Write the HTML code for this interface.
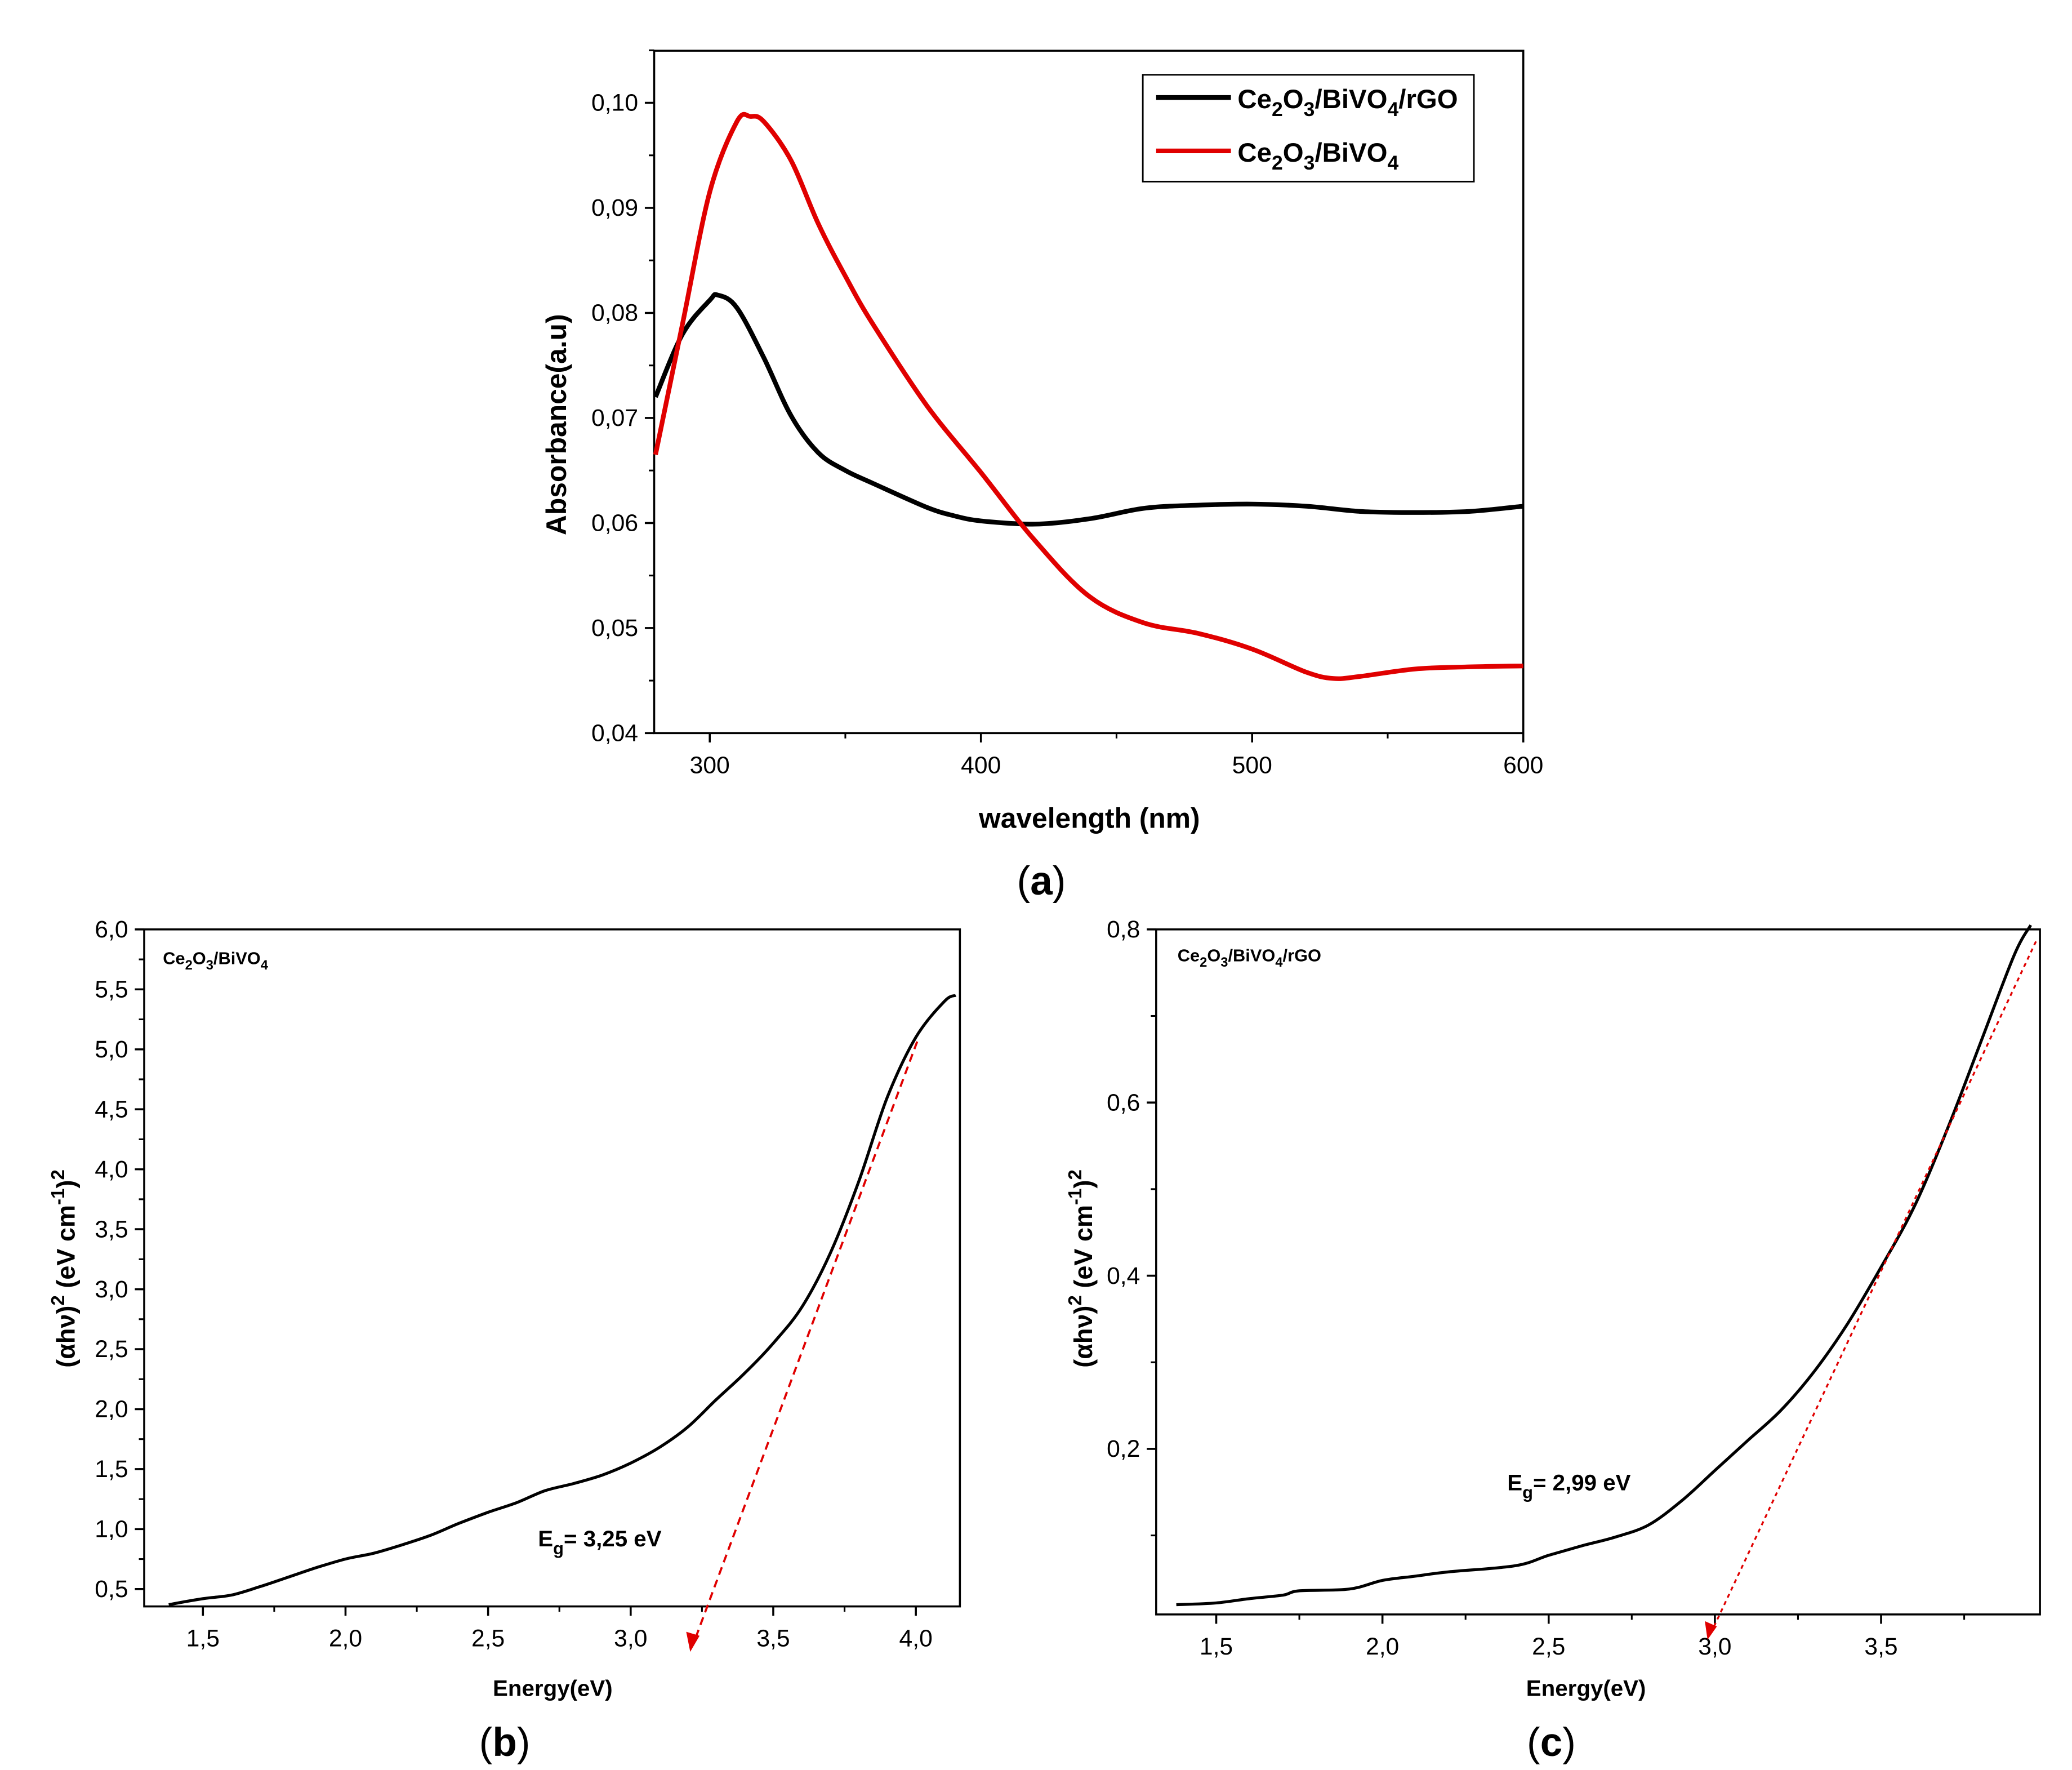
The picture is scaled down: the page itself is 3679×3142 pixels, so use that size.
<!DOCTYPE html>
<html><head><meta charset="utf-8"><style>
html,body{margin:0;padding:0;background:#fff}
svg{display:block}
text{font-family:"Liberation Sans",sans-serif;fill:#000}
</style></head><body>
<svg id="s" width="3679" height="3142" viewBox="0 0 1552 1325.5" preserveAspectRatio="none" xmlns="http://www.w3.org/2000/svg"></svg>
<script>
// Panel a data
const aWave=[280,290,300,303,310,320,330,340,350,360,380,390,400,420,440,460,480,500,520,540,560,580,600];
const aBlack=[0.072,0.078,0.0812,0.0817,0.0805,0.0757,0.0702,0.0667,0.065,0.0638,0.0615,0.0607,0.0602,0.0599,0.0604,0.0614,0.0617,0.0618,0.0616,0.0611,0.061,0.0611,0.0616];
const aRedWave=[280,290,300,310,315,320,330,340,350,360,380,400,420,440,460,480,500,520,530,540,560,580,600];
const aRed=[0.0665,0.079,0.0915,0.0982,0.0987,0.0982,0.0945,0.0885,0.0835,0.079,0.0712,0.0648,0.0583,0.053,0.0505,0.0495,0.048,0.0458,0.0452,0.0454,0.0461,0.0463,0.0464];
const aXTicks=[300,400,500,600];
const aYTicks=[0.04,0.05,0.06,0.07,0.08,0.09,0.10];
// Panel b data
const bE=[1.38,1.5,1.6,1.7,1.8,1.9,2.0,2.1,2.2,2.3,2.4,2.5,2.6,2.7,2.8,2.9,3.0,3.1,3.2,3.3,3.4,3.5,3.6,3.7,3.8,3.9,4.0,4.1,4.14];
const bV=[0.37,0.42,0.45,0.52,0.6,0.68,0.75,0.8,0.87,0.95,1.05,1.14,1.22,1.32,1.38,1.45,1.55,1.68,1.85,2.08,2.3,2.55,2.85,3.3,3.9,4.6,5.1,5.4,5.45];
const bXTicks=[1.5,2.0,2.5,3.0,3.5,4.0];
const bYTicks=[0.5,1.0,1.5,2.0,2.5,3.0,3.5,4.0,4.5,5.0,5.5,6.0];
// Panel c data
const cE=[1.38,1.5,1.6,1.7,1.75,1.9,2.0,2.1,2.2,2.4,2.5,2.6,2.7,2.8,2.9,3.0,3.1,3.2,3.3,3.4,3.5,3.6,3.7,3.8,3.9,3.95];
const cV=[0.02,0.022,0.027,0.031,0.036,0.038,0.048,0.053,0.058,0.065,0.077,0.088,0.098,0.112,0.14,0.175,0.21,0.245,0.29,0.345,0.41,0.48,0.57,0.67,0.77,0.805];
const cXTicks=[1.5,2.0,2.5,3.0,3.5];
const cYTicks=[0.2,0.4,0.6,0.8];

const S=document.getElementById('s');
const NS='http://www.w3.org/2000/svg';
function el(tag,attrs,txt){const e=document.createElementNS(NS,tag);for(const k in attrs)e.setAttribute(k,attrs[k]);if(txt!==undefined)e.innerHTML=txt;S.appendChild(e);return e;}
function fmt(v,d){return v.toFixed(d).replace('.',',');}
function lin(d0,d1,p0,p1){return v=>p0+(v-d0)*(p1-p0)/(d1-d0);}

function panel(o){
  const fr=el('rect',{x:o.x0,y:o.y0,width:o.x1-o.x0,height:o.y1-o.y0,fill:'none',stroke:'#000','stroke-width':1.5});
  
  
  const xs=o.xt[1]-o.xt[0], ys=o.yt[1]-o.yt[0];
  for(let v=o.xt[0]-xs/2;o.sx(v)<=o.x1+0.5;v+=xs/2){const px=o.sx(v); if(px<o.x0-0.5)continue;
    el('line',{x1:px,x2:px,y1:o.y1,y2:o.y1+4,stroke:'#000','stroke-width':1.3});}
  for(let v=o.yt[0]-ys/2;o.sy(v)>=o.y0-0.5;v+=ys/2){const py=o.sy(v); if(py>o.y1+0.5)continue;
    el('line',{x1:o.x0,x2:o.x0-4,y1:py,y2:py,stroke:'#000','stroke-width':1.3});}
  o.xt.forEach(v=>{const px=o.sx(v);
    el('line',{x1:px,x2:px,y1:o.y1,y2:o.y1+7,stroke:'#000','stroke-width':1.5});
    const t=el('text',{x:px,y:o.y1+30,'font-size':18,'text-anchor':'middle'},fmt(v,o.xd));
    
    
  });
  o.yt.forEach(v=>{const py=o.sy(v);
    el('line',{x1:o.x0,x2:o.x0-7,y1:py,y2:py,stroke:'#000','stroke-width':1.5});
    const t=el('text',{x:o.x0-12,y:py+6,'font-size':18,'text-anchor':'end'},fmt(v,o.yd));
    
    
  });
}
function path(xs,ys,sx,sy,stroke,w,name){
  const P=xs.map((x,i)=>[sx(x),sy(ys[i])]);
  let d='M'+P[0][0].toFixed(1)+','+P[0][1].toFixed(1);
  for(let i=0;i<P.length-1;i++){
    const p0=P[Math.max(0,i-1)],p1=P[i],p2=P[i+1],p3=P[Math.min(P.length-1,i+2)];
    const c1=[p1[0]+(p2[0]-p0[0])/6,p1[1]+(p2[1]-p0[1])/6];
    const c2=[p2[0]-(p3[0]-p1[0])/6,p2[1]-(p3[1]-p1[1])/6];
    d+=' C'+c1.map(v=>v.toFixed(1)).join(',')+' '+c2.map(v=>v.toFixed(1)).join(',')+' '+p2.map(v=>v.toFixed(1)).join(',');
  }
  const p=el('path',{d:d,fill:'none',stroke:stroke,'stroke-width':w,'stroke-linejoin':'round'});
  
  
}

// Panel a
const ax=lin(280,600,491,1141), ay=lin(0.04,0.10,549,77);
panel({name:'panel-a',x0:490,x1:1141,y0:38,y1:549,sx:ax,sy:ay,xt:aXTicks,yt:aYTicks,xd:0,yd:2});
path(aWave,aBlack,ax,ay,'#000',3.5,'series-ce2o3-bivo4-rgo');
path(aRedWave,aRed,ax,ay,'#e00000',3.5,'series-ce2o3-bivo4');
let t=el('text',{x:816,y:620,'font-size':21,'font-weight':'bold','text-anchor':'middle'},'wavelength (nm)');

t=el('text',{x:0,y:0,'font-size':21,'font-weight':'bold','text-anchor':'middle',transform:'translate(424,318) rotate(-90)'},'Absorbance(a.u)');

let r=el('rect',{x:856,y:56,width:248,height:80,fill:'#fff',stroke:'#000','stroke-width':1.2});

el('line',{x1:866,x2:922,y1:73,y2:73,stroke:'#000','stroke-width':3.5});
t=el('text',{x:927,y:81,'font-size':20,'font-weight':'bold'},'Ce<tspan dy="6" font-size="15">2</tspan><tspan dy="-6">O</tspan><tspan dy="6" font-size="15">3</tspan><tspan dy="-6">/BiVO</tspan><tspan dy="6" font-size="15">4</tspan><tspan dy="-6">/rGO</tspan>');

el('line',{x1:866,x2:922,y1:113,y2:113,stroke:'#e00000','stroke-width':3.5});
t=el('text',{x:927,y:121,'font-size':20,'font-weight':'bold'},'Ce<tspan dy="6" font-size="15">2</tspan><tspan dy="-6">O</tspan><tspan dy="6" font-size="15">3</tspan><tspan dy="-6">/BiVO</tspan><tspan dy="6" font-size="15">4</tspan>');

t=el('text',{x:780,y:670,'font-size':30,'text-anchor':'middle','font-family':'Liberation Serif, serif'},'(<tspan font-weight="bold">a</tspan>)');


// Panel b
const bx=lin(1.5,4.0,152,686), by=lin(0.5,6.0,1190,696);
panel({name:'panel-b',x0:108,x1:719,y0:696,y1:1203,sx:bx,sy:by,xt:bXTicks,yt:bYTicks,xd:1,yd:1});
path(bE,bV,bx,by,'#000',2.2,'series-b-curve');
let l=el('line',{x1:687,y1:780,x2:519,y2:1232,stroke:'#e00000','stroke-width':1.6,'stroke-dasharray':'6,4'});

el('path',{d:'M517,1237 L514,1222 L524,1225 Z',fill:'#e00000'});
t=el('text',{x:122,y:722,'font-size':13,'font-weight':'bold'},'Ce<tspan dy="4" font-size="10">2</tspan><tspan dy="-4">O</tspan><tspan dy="4" font-size="10">3</tspan><tspan dy="-4">/BiVO</tspan><tspan dy="4" font-size="10">4</tspan>');

t=el('text',{x:403,y:1158,'font-size':17,'font-weight':'bold'},'E<tspan dy="6" font-size="13">g</tspan><tspan dy="-6">= 3,25 eV</tspan>');

t=el('text',{x:414,y:1270,'font-size':17,'font-weight':'bold','text-anchor':'middle'},'Energy(eV)');

t=el('text',{x:0,y:0,'font-size':19,'font-weight':'bold','text-anchor':'middle',transform:'translate(56,950) rotate(-90)'},'(αhν)<tspan dy="-8" font-size="14">2</tspan><tspan dy="8"> (eV cm</tspan><tspan dy="-8" font-size="14">-1</tspan><tspan dy="8">)</tspan><tspan dy="-8" font-size="14">2</tspan>');

t=el('text',{x:378,y:1315,'font-size':30,'text-anchor':'middle','font-family':'Liberation Serif, serif'},'(<tspan font-weight="bold">b</tspan>)');


// Panel c
const cx=lin(1.5,3.5,911,1409), cy=lin(0.2,0.8,1085,696);
panel({name:'panel-c',x0:866,x1:1528,y0:696,y1:1209,sx:cx,sy:cy,xt:cXTicks,yt:cYTicks,xd:1,yd:1});
path(cE,cV,cx,cy,'#000',2.2,'series-c-curve');
l=el('line',{x1:1525,y1:705,x2:1282,y2:1222,stroke:'#e00000','stroke-width':1.4,'stroke-dasharray':'3,3'});

el('path',{d:'M1279,1228 L1277,1214 L1286,1218 Z',fill:'#e00000'});
t=el('text',{x:882,y:720,'font-size':13,'font-weight':'bold'},'Ce<tspan dy="4" font-size="10">2</tspan><tspan dy="-4">O</tspan><tspan dy="4" font-size="10">3</tspan><tspan dy="-4">/BiVO</tspan><tspan dy="4" font-size="10">4</tspan><tspan dy="-4">/rGO</tspan>');

t=el('text',{x:1129,y:1116,'font-size':17,'font-weight':'bold'},'E<tspan dy="6" font-size="13">g</tspan><tspan dy="-6">= 2,99 eV</tspan>');

t=el('text',{x:1188,y:1270,'font-size':17,'font-weight':'bold','text-anchor':'middle'},'Energy(eV)');

t=el('text',{x:0,y:0,'font-size':19,'font-weight':'bold','text-anchor':'middle',transform:'translate(818,950) rotate(-90)'},'(αhν)<tspan dy="-8" font-size="14">2</tspan><tspan dy="8"> (eV cm</tspan><tspan dy="-8" font-size="14">-1</tspan><tspan dy="8">)</tspan><tspan dy="-8" font-size="14">2</tspan>');

t=el('text',{x:1162,y:1315,'font-size':30,'text-anchor':'middle','font-family':'Liberation Serif, serif'},'(<tspan font-weight="bold">c</tspan>)');

</script>
</body></html>
